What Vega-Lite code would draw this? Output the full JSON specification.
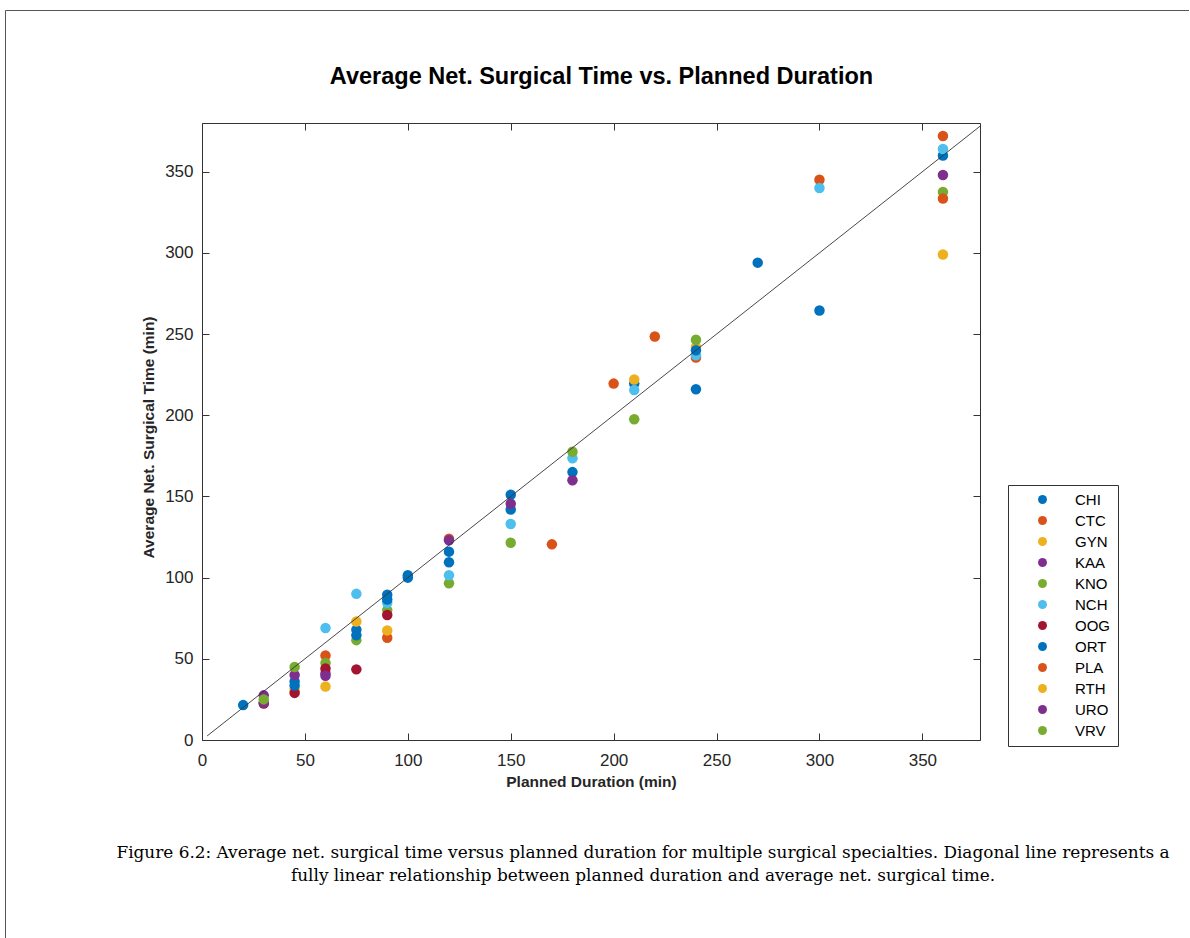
{
  "$schema": "https://vega.github.io/schema/vega-lite/v6.json",
  "autosize": {"type": "none"},
  "width": 1184,
  "height": 930,
  "padding": {"left": 5, "top": 10, "right": 0, "bottom": 0},
  "background": "white",
  "title": {
    "text": ["Figure 6.2: Average net. surgical time versus planned duration for multiple surgical specialties. Diagonal line represents a", "fully linear relationship between planned duration and average net. surgical time."],
    "orient": "bottom",
    "anchor": "middle",
    "frame": "group",
    "offset": -95,
    "dx": 46,
    "font": "DejaVu Serif",
    "fontSize": 16.9,
    "fontWeight": "normal",
    "color": "black",
    "lineHeight": 23
  },
  "config": {
    "font": "Liberation Sans",
    "view": {"stroke": "#555555", "strokeWidth": 1}
  },
  "layer": [
    {
      "data": {"values": [
        {"planned": 20, "actual": 21.5, "specialty": "CHI"},
        {"planned": 45, "actual": 36, "specialty": "CHI"},
        {"planned": 75, "actual": 68, "specialty": "CHI"},
        {"planned": 90, "actual": 89.5, "specialty": "CHI"},
        {"planned": 100, "actual": 101.5, "specialty": "CHI"},
        {"planned": 120, "actual": 116, "specialty": "CHI"},
        {"planned": 150, "actual": 151, "specialty": "CHI"},
        {"planned": 210, "actual": 219.5, "specialty": "CHI"},
        {"planned": 240, "actual": 216, "specialty": "CHI"},
        {"planned": 300, "actual": 264.5, "specialty": "CHI"},
        {"planned": 360, "actual": 360, "specialty": "CHI"},
        {"planned": 60, "actual": 52, "specialty": "CTC"},
        {"planned": 120, "actual": 124, "specialty": "CTC"},
        {"planned": 200, "actual": 219.5, "specialty": "CTC"},
        {"planned": 240, "actual": 235.5, "specialty": "CTC"},
        {"planned": 300, "actual": 345, "specialty": "CTC"},
        {"planned": 360, "actual": 372, "specialty": "CTC"},
        {"planned": 45, "actual": 31, "specialty": "GYN"},
        {"planned": 60, "actual": 33, "specialty": "GYN"},
        {"planned": 240, "actual": 242, "specialty": "GYN"},
        {"planned": 360, "actual": 299, "specialty": "GYN"},
        {"planned": 30, "actual": 27.5, "specialty": "KAA"},
        {"planned": 45, "actual": 40, "specialty": "KAA"},
        {"planned": 60, "actual": 41, "specialty": "KAA"},
        {"planned": 120, "actual": 123, "specialty": "KAA"},
        {"planned": 360, "actual": 348, "specialty": "KAA"},
        {"planned": 45, "actual": 45, "specialty": "KNO"},
        {"planned": 60, "actual": 47.5, "specialty": "KNO"},
        {"planned": 75, "actual": 61.5, "specialty": "KNO"},
        {"planned": 90, "actual": 80, "specialty": "KNO"},
        {"planned": 120, "actual": 96.5, "specialty": "KNO"},
        {"planned": 210, "actual": 197.5, "specialty": "KNO"},
        {"planned": 240, "actual": 246.5, "specialty": "KNO"},
        {"planned": 360, "actual": 337.5, "specialty": "KNO"},
        {"planned": 60, "actual": 69, "specialty": "NCH"},
        {"planned": 75, "actual": 90, "specialty": "NCH"},
        {"planned": 90, "actual": 84.5, "specialty": "NCH"},
        {"planned": 120, "actual": 101.5, "specialty": "NCH"},
        {"planned": 150, "actual": 133, "specialty": "NCH"},
        {"planned": 180, "actual": 173.5, "specialty": "NCH"},
        {"planned": 210, "actual": 215.5, "specialty": "NCH"},
        {"planned": 240, "actual": 237, "specialty": "NCH"},
        {"planned": 300, "actual": 340, "specialty": "NCH"},
        {"planned": 360, "actual": 364, "specialty": "NCH"},
        {"planned": 30, "actual": 22.5, "specialty": "OOG"},
        {"planned": 45, "actual": 29, "specialty": "OOG"},
        {"planned": 60, "actual": 44, "specialty": "OOG"},
        {"planned": 75, "actual": 43.5, "specialty": "OOG"},
        {"planned": 90, "actual": 77, "specialty": "OOG"},
        {"planned": 45, "actual": 33.5, "specialty": "ORT"},
        {"planned": 75, "actual": 64.5, "specialty": "ORT"},
        {"planned": 90, "actual": 86.5, "specialty": "ORT"},
        {"planned": 100, "actual": 100, "specialty": "ORT"},
        {"planned": 120, "actual": 109.5, "specialty": "ORT"},
        {"planned": 150, "actual": 142, "specialty": "ORT"},
        {"planned": 180, "actual": 165, "specialty": "ORT"},
        {"planned": 240, "actual": 240, "specialty": "ORT"},
        {"planned": 270, "actual": 294, "specialty": "ORT"},
        {"planned": 90, "actual": 63, "specialty": "PLA"},
        {"planned": 170, "actual": 120.5, "specialty": "PLA"},
        {"planned": 220, "actual": 248.5, "specialty": "PLA"},
        {"planned": 360, "actual": 333.5, "specialty": "PLA"},
        {"planned": 75, "actual": 73, "specialty": "RTH"},
        {"planned": 90, "actual": 67.5, "specialty": "RTH"},
        {"planned": 210, "actual": 222, "specialty": "RTH"},
        {"planned": 30, "actual": 23, "specialty": "URO"},
        {"planned": 60, "actual": 39.5, "specialty": "URO"},
        {"planned": 150, "actual": 145.5, "specialty": "URO"},
        {"planned": 180, "actual": 160, "specialty": "URO"},
        {"planned": 30, "actual": 25, "specialty": "VRV"},
        {"planned": 150, "actual": 121.5, "specialty": "VRV"},
        {"planned": 180, "actual": 177.5, "specialty": "VRV"}
      ]},
      "mark": {"type": "circle", "size": 110, "opacity": 1},
      "encoding": {
        "x": {
          "field": "planned", "type": "quantitative",
          "scale": {"domain": [0, 378], "range": [197, 975], "nice": false, "zero": false},
          "axis": {
            "orient": "bottom", "offset": -200,
            "values": [0, 50, 100, 150, 200, 250, 300, 350],
            "grid": false, "labelFlush": false, "labelOverlap": false,
            "tickSize": -7, "labelPadding": 19,
            "labelFontSize": 17, "labelColor": "#262626",
            "domainColor": "#333333", "tickColor": "#333333",
            "title": "Planned Duration (min)", "titleFontSize": 15.5, "titleFontWeight": "bold",
            "titleColor": "#262626", "titlePadding": 6
          }
        },
        "y": {
          "field": "actual", "type": "quantitative",
          "scale": {"domain": [0, 380], "range": [730, 113], "nice": false, "zero": false},
          "axis": {
            "orient": "left", "offset": -197,
            "values": [0, 50, 100, 150, 200, 250, 300, 350],
            "grid": false, "labelFlush": false, "labelOverlap": false,
            "tickSize": -7, "labelPadding": 16,
            "labelFontSize": 17, "labelColor": "#262626",
            "domainColor": "#333333", "tickColor": "#333333",
            "title": "Average Net. Surgical Time (min)", "titleFontSize": 15.5, "titleFontWeight": "bold",
            "titleColor": "#262626", "titlePadding": 8, "titleY": 427
          }
        },
        "color": {
          "field": "specialty", "type": "nominal",
          "scale": {
            "domain": ["CHI", "CTC", "GYN", "KAA", "KNO", "NCH", "OOG", "ORT", "PLA", "RTH", "URO", "VRV"],
            "range": ["#0072BD", "#D95319", "#EDB120", "#7E2F8E", "#77AC30", "#4DBEEE", "#A2142F", "#0072BD", "#D95319", "#EDB120", "#7E2F8E", "#77AC30"]
          },
          "legend": {
            "orient": "none", "legendX": 1003, "legendY": 475,
            "title": null, "strokeColor": "#333333", "fillColor": "white",
            "padding": 7, "symbolType": "circle", "symbolSize": 80,
            "symbolStrokeWidth": 0, "symbolOpacity": 1,
            "labelFontSize": 15, "labelColor": "black", "labelFont": "Liberation Sans",
            "rowPadding": 5, "symbolOffset": 20, "labelOffset": 25
          }
        }
      }
    },
    {
      "data": {"values": [
        {"lx": 2.5, "ly": 2.5},
        {"lx": 378, "ly": 378}
      ]},
      "mark": {"type": "line", "color": "#333333", "strokeWidth": 0.9},
      "encoding": {
        "x": {
          "field": "lx", "type": "quantitative",
          "scale": {"domain": [0, 378], "range": [197, 975], "nice": false, "zero": false},
          "axis": {
            "orient": "top", "offset": -113,
            "values": [0, 50, 100, 150, 200, 250, 300, 350],
            "grid": false, "labels": false, "tickSize": -7,
            "domainColor": "#333333", "tickColor": "#333333",
            "title": "Average Net. Surgical Time vs. Planned Duration",
            "titleFontSize": 23.5, "titleFontWeight": "bold", "titleColor": "black",
            "titlePadding": 34, "titleX": 596
          }
        },
        "y": {
          "field": "ly", "type": "quantitative",
          "scale": {"domain": [0, 380], "range": [730, 113], "nice": false, "zero": false},
          "axis": {
            "orient": "right", "offset": -209,
            "values": [0, 50, 100, 150, 200, 250, 300, 350],
            "grid": false, "labels": false, "tickSize": -7,
            "domainColor": "#333333", "tickColor": "#333333",
            "title": null
          }
        }
      }
    }
  ]
}
